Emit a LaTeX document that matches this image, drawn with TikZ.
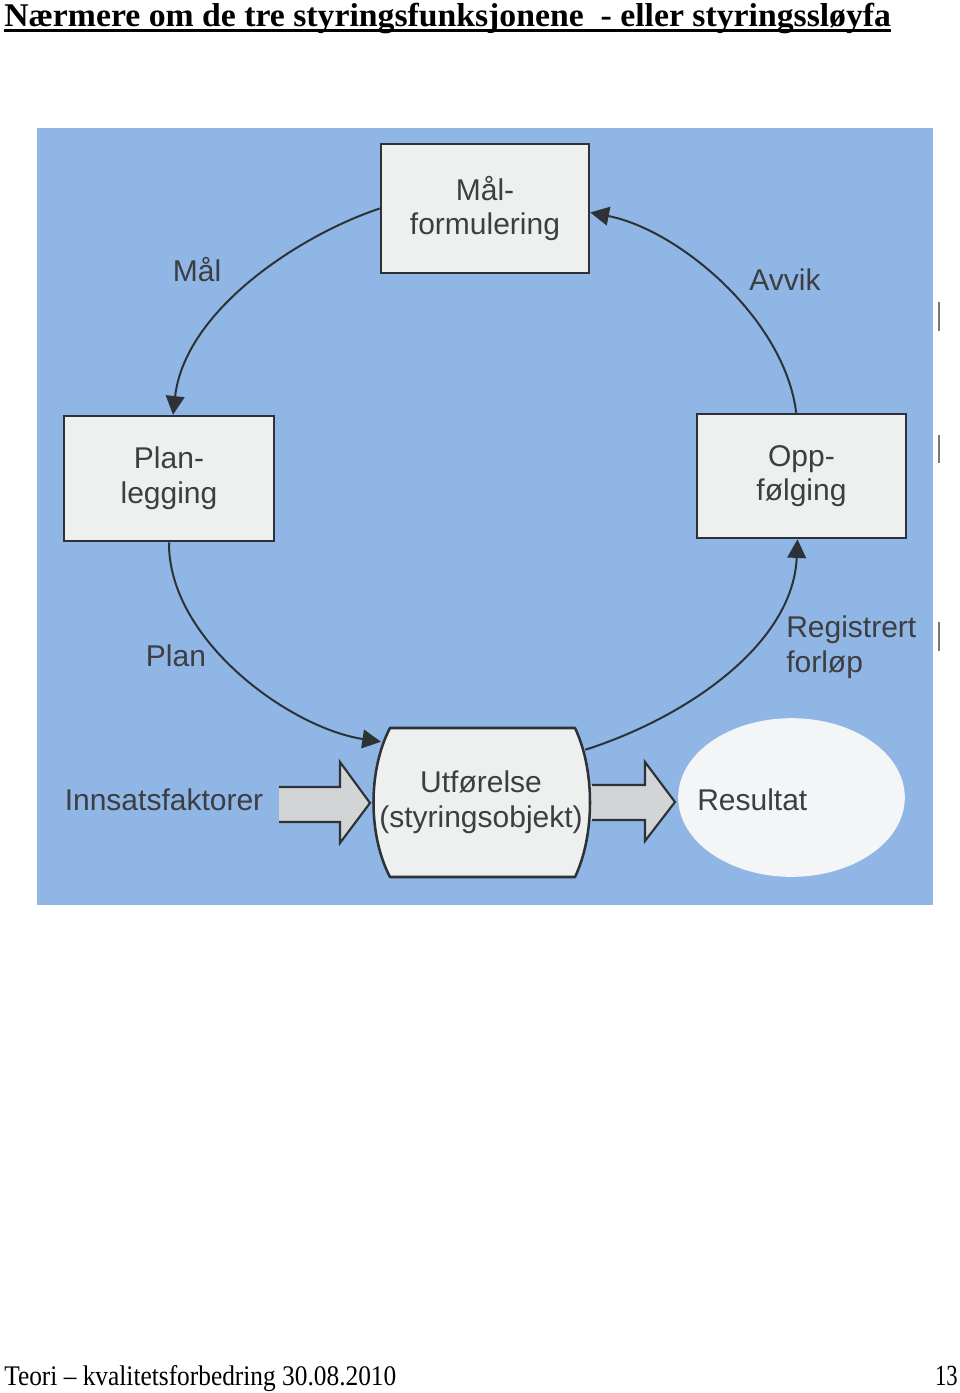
\documentclass[tikz,border=0pt]{standalone}
\usepackage{fontspec}
\setmainfont{Liberation Serif}
\newfontfamily\diag{Liberation Sans}
\usetikzlibrary{arrows.meta}
\definecolor{panel}{RGB}{143,182,228}
\definecolor{boxfill}{RGB}{238,240,240}
\definecolor{ink}{RGB}{45,50,55}
\definecolor{txt}{RGB}{60,62,66}
\definecolor{blockfill}{RGB}{210,212,214}
\definecolor{ellfill}{RGB}{244,245,246}
\definecolor{markgray}{RGB}{120,120,120}
\begin{document}
\begin{tikzpicture}[x=0.75pt,y=-0.75pt,
  lbl/.style={font=\diag\fontsize{22.5}{26}\selectfont, text=txt, inner sep=0pt, align=center},
  funcbox/.style={draw=ink, line width=1.9pt, fill=boxfill, align=center,
    font=\diag\fontsize{22.5}{26}\selectfont, text=txt, inner sep=0pt},
  flow/.style={draw=ink, line width=1.5pt, -{Triangle[length=14pt,width=14pt]}},
  blockfillst/.style={fill=blockfill},
  blockline/.style={draw=ink, line width=1.6pt, line join=miter}]
\useasboundingbox (0,0) rectangle (960,1393);
\fill[white] (0,0) rectangle (960,1393);

% title and footer
\node[anchor=base west, inner sep=0pt] (title) at (4,26)
  {\resizebox{665pt}{17.5pt}{\bfseries Nærmere om de tre styringsfunksjonene\ \ - eller styringssløyfa}};
\draw[line width=1.8pt] (4,30.5) -- (891,30.5);
\node[anchor=base west, inner sep=0pt] (foot) at (4,1385)
  {\resizebox{294pt}{15pt}{Teori – kvalitetsforbedring 30.08.2010}};
\node[anchor=base east, inner sep=0pt] (page) at (958,1385)
  {\resizebox{17pt}{14.5pt}{13}};

% panel
\fill[panel] (37,128) rectangle (933,905);

% margin marks
\draw[markgray, line width=1.5pt] (939,302) -- (939,331);
\draw[markgray, line width=1.5pt] (939,435) -- (939,463);
\draw[markgray, line width=1.5pt] (939,622) -- (939,651);

% result ellipse
\fill[ellfill] (791.5,797.5) ellipse [x radius=85pt, y radius=59.5pt];

% function boxes
\node[funcbox, minimum width=156pt, minimum height=96.75pt] (mal) at (485,208.5) {Mål-\\formulering};
\node[funcbox, minimum width=157.5pt, minimum height=93.75pt] (plan) at (169,478.5) {Plan-\\legging};
\node[funcbox, minimum width=156.75pt, minimum height=93pt] (opp) at (801.5,476) {Opp-\\følging};

% block arrows
\fill[blockfillst] (279,787) -- (340,787) -- (340,762) -- (370,803) -- (340,843) -- (340,822) -- (279,822) -- cycle;
\draw[blockline] (279,787) -- (340,787) -- (340,762) -- (370,803) -- (340,843) -- (340,822) -- (279,822);
\fill[blockfillst] (590,785) -- (645,785) -- (645,762) -- (675,802) -- (645,841) -- (645,820) -- (590,820) -- cycle;
\draw[blockline] (592,785) -- (645,785) -- (645,762) -- (675,802) -- (645,841) -- (645,820) -- (592,820);

% execution (barrel shape)
\filldraw[fill=boxfill, draw=ink, line width=1.9pt, line join=round]
  (390,728) -- (575,728) .. controls (595,770) and (595,835) .. (575,877)
  -- (390,877) .. controls (368,835) and (368,770) .. (390,728) -- cycle;
\node[lbl, minimum width=163.5pt, minimum height=111.75pt] (utf) at (481,802.5) {Utførelse\\(styringsobjekt)};

% loop connectors
\draw[flow] (mal.west) .. controls (300,235) and (185,310) .. ([xshift=3pt]plan.north);
\draw[flow] (plan.south) .. controls (168,640) and (290,728) .. ([xshift=-75pt,yshift=-10.5pt]utf.north);
\draw[flow] ([xshift=-3.75pt,yshift=-16.5pt]utf.north east) .. controls (685,718) and (793,645) .. ([xshift=-3pt]opp.south);
\draw[flow] ([xshift=-4pt]opp.north) .. controls (785,320) and (680,230) .. ([yshift=-3pt]mal.east);

% labels
\node[lbl] (lmal) at (197,270) {Mål};
\node[lbl] (lavvik) at (785,280) {Avvik};
\node[lbl] (lplan) at (176,656) {Plan};
\node[lbl, align=left, anchor=west] (lreg) at (786,647) {Registrert\\forløp};
\node[lbl] (linn) at (164,800) {Innsatsfaktorer};
\node[lbl, anchor=west] (lres) at (697,800) {Resultat};
\end{tikzpicture}
\end{document}
